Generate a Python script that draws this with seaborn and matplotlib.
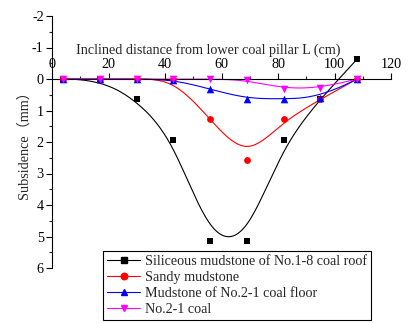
import numpy as np
import pandas as pd
import matplotlib
matplotlib.use("Agg")
import matplotlib.pyplot as plt
from matplotlib.lines import Line2D
import seaborn as sns

# Measuring points: inclined distance from the lower coal pillar (cm)
dist = [4, 17, 30, 43, 56, 69, 82, 95, 108]

# Subsidence (mm) for each stratum
siliceous = [0, 0, 0.63, 1.94, 5.14, 5.14, 1.94, 0.63, -0.63]
sandy = [0, 0, 0, 0, 1.28, 2.57, 1.28, 0.65, 0]
mudstone = [0, 0, 0, 0.02, 0.32, 0.63, 0.63, 0.60, 0]
coal = [0, 0, 0, 0, 0, 0.03, 0.32, 0.30, 0]

series_names = [
    "Siliceous mudstone of No.1-8 coal roof",
    "Sandy mudstone",
    "Mudstone of No.2-1 coal floor",
    "No.2-1 coal",
]
series_values = [siliceous, sandy, mudstone, coal]
colors = ["#000000", "#FF0000", "#0000FF", "#FF00FF"]
markers = ["s", "o", "^", "v"]
marker_sizes = [22, 24, 30, 30]

x_ticks = [0, 20, 40, 60, 80, 100, 120]
y_ticks = [-2, -1, 0, 1, 2, 3, 4, 5, 6]

FS = 10.2


def bspline(px, py, n=400, k=3):
    """Clamped uniform cubic B-spline using the points as control points."""
    pts = np.column_stack([px, py]).astype(float)
    m = len(pts)
    knots = np.concatenate([np.zeros(k), np.arange(m - k + 1), np.full(k, m - k)]).astype(float)
    ts = np.linspace(0, m - k, n)
    out = []
    for t in ts:
        if t >= knots[m]:
            s = m - 1
        else:
            s = np.searchsorted(knots, t, side="right") - 1
        d = [pts[j + s - k].copy() for j in range(k + 1)]
        for r in range(1, k + 1):
            for j in range(k, r - 1, -1):
                i = j + s - k
                denom = knots[i + k + 1 - r] - knots[i]
                a = 0.0 if denom == 0 else (t - knots[i]) / denom
                d[j] = (1 - a) * d[j - 1] + a * d[j]
        out.append(d[k])
    out = np.array(out)
    return out[:, 0], out[:, 1]


sns.set_style("ticks")
plt.rcParams["font.family"] = ["Liberation Serif", "Noto Sans CJK SC"]
plt.rcParams["axes.unicode_minus"] = False

fig = plt.figure(figsize=(4.08, 3.23), dpi=100)
ax = fig.add_axes([52 / 408, 1 - 268 / 323, (391 - 52) / 408, (268 - 16) / 323])

for name, vals, c, mk, ms in zip(series_names, series_values, colors, markers, marker_sizes):
    sx, sy = bspline(dist, vals)
    curve = pd.DataFrame({"x": sx, "y": sy})
    sns.lineplot(data=curve, x="x", y="y", sort=False, estimator=None,
                 color=c, linewidth=0.8, ax=ax)
for name, vals, c, mk, ms in zip(series_names, series_values, colors, markers, marker_sizes):
    pts = pd.DataFrame({"x": dist, "y": vals})
    sns.scatterplot(data=pts, x="x", y="y", marker=mk, color=c, s=ms,
                    edgecolor=c, linewidth=0, ax=ax, zorder=3, clip_on=False)

ax.set_xlim(0, 120)
ax.set_ylim(6, -2)

# x axis runs along zero subsidence with labels above it
ax.spines["bottom"].set_visible(False)
ax.spines["right"].set_visible(False)
ax.spines["top"].set_position(("data", 0))
for sp in ("top", "left"):
    ax.spines[sp].set_linewidth(0.8)
    ax.spines[sp].set_color("black")
ax.xaxis.set_ticks_position("top")
ax.xaxis.set_label_position("top")

ax.set_xticks(x_ticks)
ax.set_xticklabels([str(v) for v in x_ticks])
ax.set_xticks(np.arange(10, 120, 20), minor=True)
ax.set_yticks(y_ticks)
ax.set_yticklabels([str(v) for v in y_ticks])
ax.set_yticks(np.arange(-1.5, 6, 1), minor=True)

ax.tick_params(axis="both", which="major", direction="out", length=4, width=0.8,
               labelsize=FS, colors="black", pad=2)
ax.tick_params(axis="both", which="minor", direction="out", length=2, width=0.8)

ax.set_xlabel("Inclined distance from lower coal pillar L (cm)", fontsize=FS, labelpad=3)
ax.xaxis.label.set_x(0.462)
ax.set_ylabel("Subsidence（mm）", fontsize=FS, labelpad=0.6)

handles = [Line2D([0], [0], color=c, marker=mk, markersize=4.7, linewidth=0.8)
           for c, mk in zip(colors, markers)]
leg = fig.legend(handles, series_names, loc="lower left",
                 bbox_to_anchor=(103 / 408, 3 / 323), bbox_transform=fig.transFigure,
                 borderaxespad=0, fontsize=FS, frameon=True, fancybox=False,
                 framealpha=1, edgecolor="black", handlelength=2.3,
                 labelspacing=0.2, borderpad=0.3, handletextpad=0.35)
leg.get_frame().set_linewidth(0.8)

fig.savefig("out.png", dpi=100)
